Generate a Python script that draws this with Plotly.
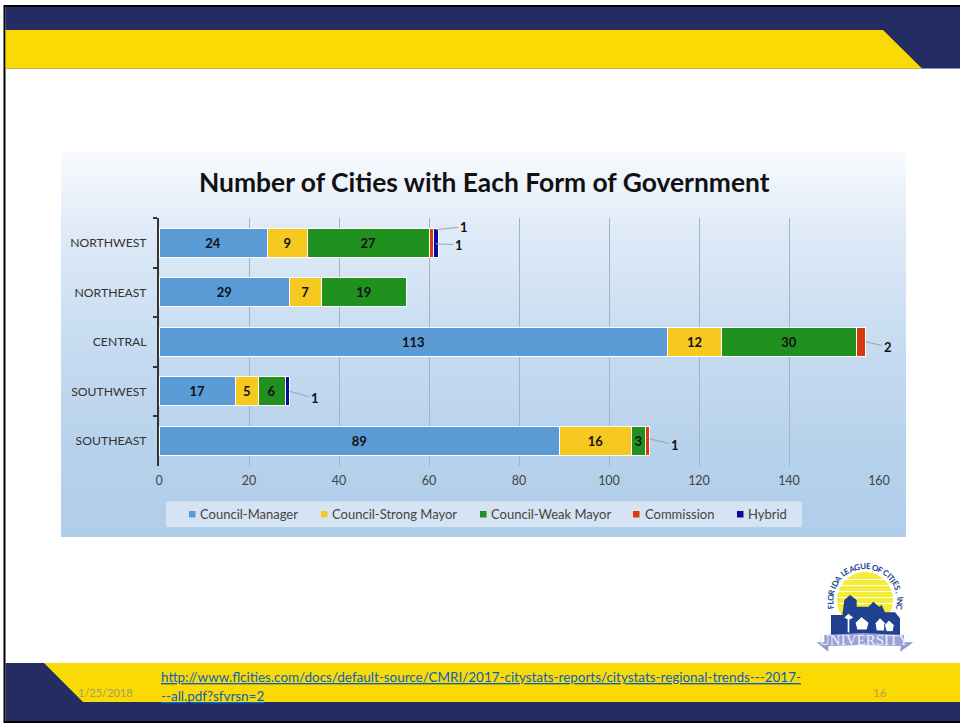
import math
import plotly.graph_objects as go

# ---- data ----
regions = ["NORTHWEST", "NORTHEAST", "CENTRAL", "SOUTHWEST", "SOUTHEAST"]
council_manager = [24, 29, 113, 17, 89]
council_strong = [9, 7, 12, 5, 16]
council_weak = [27, 19, 30, 6, 3]
commission = [1, 0, 2, 0, 1]
hybrid = [1, 0, 0, 1, 0]
series_names = ["Council-Manager", "Council-Strong Mayor", "Council-Weak Mayor", "Commission", "Hybrid"]
series_values = [council_manager, council_strong, council_weak, commission, hybrid]
series_colors = ["#5b9bd5", "#f5c91f", "#20901f", "#d83a10", "#0a0aa0"]
x_ticks = [0, 20, 40, 60, 80, 100, 120, 140, 160]
title_text = "Number of Cities with Each Form of Government"
link_line1 = "http://www.flcities.com/docs/default-source/CMRI/2017-citystats-reports/citystats-regional-trends---2017-"
link_line2 = "--all.pdf?sfvrsn=2"
date_text = "1/25/2018"
page_text = "16"
logo_arc_text = "FLORIDA LEAGUE OF CITIES, INC"
logo_banner_text = "UNIVERSITY"

W, H = 960, 723
NAVY, GOLD = "#232c63", "#fbd903"
FONT = "Lato"


def fx(p):
    return p / W


def fy(p):
    return 1 - p / H


def rect(x0, y0, x1, y1, color, layer="below"):
    return dict(type="rect", xref="paper", yref="paper", x0=fx(x0), x1=fx(x1), y0=fy(y0), y1=fy(y1),
                fillcolor=color, line_width=0, layer=layer)


def poly(points, color, layer="below", line=None):
    path = "M " + " L ".join(f"{fx(a):.5f},{fy(b):.5f}" for a, b in points) + " Z"
    return dict(type="path", xref="paper", yref="paper", path=path, fillcolor=color,
                line=dict(width=0) if line is None else line, layer=layer)


def note(x, y, text, size, color="#222222", family=FONT, anchor="center", angle=0):
    return dict(xref="paper", yref="paper", x=fx(x), y=fy(y), text=text, showarrow=False, xanchor=anchor,
                yanchor="middle", textangle=angle, font=dict(family=family, size=size, color=color))


fig = go.Figure()
for name, vals, col in zip(series_names, series_values, series_colors):
    labels = [str(v) if (v > 2) else "" for v in vals]
    fig.add_trace(go.Bar(y=regions, x=vals, name=name, orientation="h", showlegend=False,
                         marker=dict(color=col, line=dict(color="#ffffff", width=1)),
                         text=labels, textposition="inside", insidetextanchor="middle", textangle=0,
                         constraintext="none", cliponaxis=False,
                         insidetextfont=dict(family=FONT, size=13, color="#111111", weight="bold")))

shapes = []
# slide frame
shapes.append(rect(3.5, 5, W, 723, "#000000"))
shapes.append(rect(5.5, 7, W, 721, "#ffffff"))
shapes.append(rect(5.5, 7, W, 68.5, NAVY))
shapes.append(poly([(5.5, 30), (883, 30), (922, 68.5), (5.5, 68.5)], GOLD))
shapes.append(rect(5.5, 663, W, 721, NAVY))
shapes.append(poly([(44, 663), (W, 663), (W, 702), (83, 702)], GOLD))

# chart panel gradient
stops = [(152.0, (247, 250, 254)), (230.0, (223, 234, 247)), (340.0, (199, 220, 241)),
         (440.0, (184, 210, 236)), (537.0, (176, 205, 234))]
y = 152.0
while y < 537:
    for (a, ca), (b, cb) in zip(stops, stops[1:]):
        if a <= y <= b:
            t = (y - a) / (b - a)
            c = tuple(round(p + (q - p) * t) for p, q in zip(ca, cb))
    shapes.append(rect(61, y, 906, min(y + 4, 537), "rgb(%d,%d,%d)" % c))
    y += 4

# legend
legend_marker_x = [189, 321, 480, 633, 737]
legend_text_x = [198, 330, 488.5, 643, 745.5]
shapes.append(rect(166, 501.5, 802, 527, "rgba(236,241,247,0.62)"))
annotations = []
for mx, tx, name, col in zip(legend_marker_x, legend_text_x, series_names, series_colors):
    shapes.append(rect(mx, 511, mx + 6.5, 517.5, col))
    annotations.append(note(tx, 514, name, 13, "#444444", anchor="left"))

# title
annotations.append(note(484, 182, f"<b>{title_text}</b>", 26.4, "#111111"))


def leader(xval, region, yshift, ax, ay, val):
    return dict(x=xval, y=regions[region], xref="x", yref="y", text=f"<b>{val}</b>", showarrow=True,
                arrowhead=0, arrowwidth=1, arrowcolor="#9aa3ad", ax=ax, ay=ay, yshift=yshift, standoff=0,
                font=dict(family=FONT, size=13, color="#111111"))


annotations += [
    leader(61.5, 0, 13, 28, -3, commission[0]),
    leader(61.5, 0, -1, 23, 1, hybrid[0]),
    leader(29, 3, 0, 25, 7, hybrid[3]),
    leader(157, 2, 0, 22, 5, commission[2]),
    leader(109, 4, 2, 25, 6, commission[4]),
]

# footer texts
annotations.append(note(159, 677, f'<u>{link_line1}</u>', 13.45, "#0563c1", anchor="left"))
annotations.append(note(159, 695.5, f'<u>{link_line2}</u>', 13.45, "#0563c1", anchor="left"))
annotations.append(note(105, 692, date_text, 11, "#a39d72"))
annotations.append(note(880, 692, page_text, 11.5, "#b3a04a"))


# logo
def lz(zx, zy):
    return (805 + zx / 3, 555 + zy / 3)


LOGO_BLUE = "#20418f"
shapes.append(dict(type="circle", xref="paper", yref="paper", x0=fx(837), x1=fx(893), y0=fy(572), y1=fy(628),
                   fillcolor="#f3ee35", line_width=0, layer="above"))
for sy in [579, 585, 591, 597, 603]:
    shapes.append(rect(832, sy, 898, sy + 1, "#ffffff", "above"))
skyline = [(78, 240), (78, 180), (112, 180), (118, 135), (135, 120), (155, 135), (155, 155), (190, 155),
           (205, 140), (222, 155), (230, 150), (240, 172), (270, 172), (285, 190), (285, 240)]
shapes.append(poly([lz(*p) for p in skyline], LOGO_BLUE, "above"))
for house in ([(150, 203), (170, 185), (192, 203), (186, 225), (156, 225)],
              [(210, 205), (225, 188), (242, 205), (238, 228), (214, 228)],
              [(238, 210), (252, 195), (268, 210), (264, 230), (244, 230)]):
    shapes.append(poly([lz(*p) for p in house], "#ffffff", "above", dict(color=LOGO_BLUE, width=1)))
shapes.append(poly([lz(128, 232), lz(128, 190), lz(133, 190), lz(133, 232)], "#ffffff", "above"))
shapes.append(poly([lz(118, 188), lz(130, 176), lz(145, 188), lz(131, 194)], "#ffffff", "above"))
# banner
shapes.append(poly([lz(35, 262), lz(70, 262), lz(70, 290)], "#8f97cf", "above"))
shapes.append(poly([lz(325, 262), lz(290, 262), lz(285, 290)], "#8f97cf", "above"))
shapes.append(poly([lz(58, 240), lz(172, 234), lz(297, 240), lz(297, 274), lz(172, 270), lz(58, 274)], "#9aa2d6", "above"))
annotations.append(note(*lz(177, 254), logo_banner_text, 15, "#eef0fb", "Liberation Serif"))
cx, cy, r = 865, 601, 35
char_w = [0.45 if ch in "I, " else (0.7 if ch in "FLETC" else 1.0) for ch in logo_arc_text]
total = sum(char_w)
run = 0.0
for ch, w in zip(logo_arc_text, char_w):
    ang = -103 + 206 * (run + w / 2) / total
    run += w
    px = cx + r * math.sin(math.radians(ang))
    py = cy - r * math.cos(math.radians(ang))
    if ch != " ":
        annotations.append(note(px, py, f"<b>{ch}</b>", 8, LOGO_BLUE, angle=ang))

fig.update_layout(
    width=W, height=H, autosize=False, margin=dict(l=0, r=0, t=0, b=0, pad=0),
    paper_bgcolor="#ffffff", plot_bgcolor="rgba(0,0,0,0)",
    barmode="stack", bargap=0.415,
    shapes=shapes, annotations=annotations,
    font=dict(family=FONT),
    xaxis=dict(domain=[159 / W, 879 / W], range=[0, 160], tickvals=x_ticks, showgrid=True, gridcolor="#a3b2c4",
               gridwidth=1, zeroline=False, showline=False, ticks="", ticklabelstandoff=6, automargin=False,
               tickfont=dict(family=FONT, size=12.5, color="#444444"), anchor="y"),
    yaxis=dict(domain=[1 - 465.5 / H, 1 - 218 / H], categoryorder="array", categoryarray=regions, autorange="reversed",
               showline=True, linecolor="#333333", linewidth=2, ticks="outside", tickson="boundaries", ticklen=4,
               tickwidth=2, tickcolor="#333333", showgrid=False, ticklabelstandoff=8, automargin=False,
               tickfont=dict(family=FONT, size=12.2, color="#333333"), anchor="x"),
)

fig.write_html(
    "out.html", config=dict(displayModeBar=False, responsive=False),
    post_script="document.body.style.margin='0';document.body.style.overflow='hidden';",
)
